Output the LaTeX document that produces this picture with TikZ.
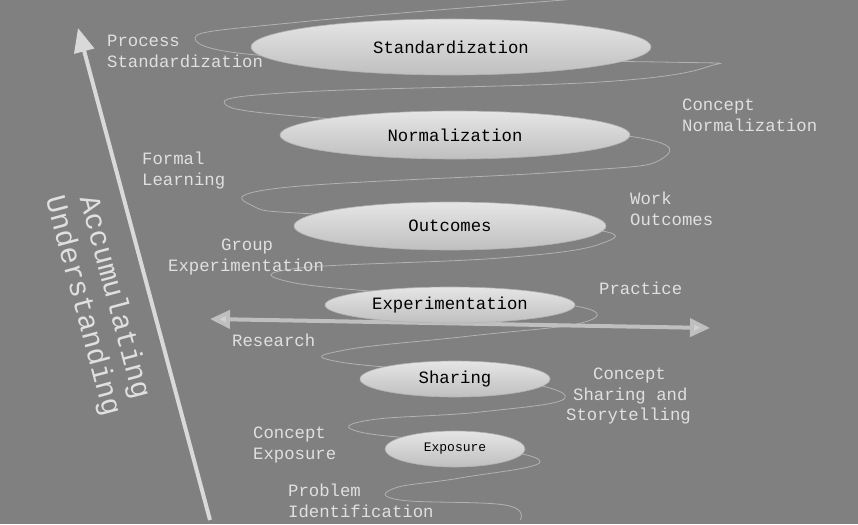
\documentclass[tikz,border=0pt]{standalone}
\usepackage{fontspec}
\setmonofont{Liberation Mono}
\usetikzlibrary{arrows.meta,shapes.geometric}
\begin{document}
\begin{tikzpicture}[x=1pt,y=-1pt,
  lab/.style={text=black!12,font=\ttfamily\fontsize{17.3}{20.5}\selectfont,align=left,anchor=north west,inner sep=0pt},
  ell/.style={ellipse,draw=gray!60!white,line width=0.6pt,top color=black!10,bottom color=black!25,font=\ttfamily\fontsize{17.3}{18}\selectfont,inner sep=0pt}]
\fill[gray] (0,0) rectangle (858,524);
\useasboundingbox (0,0) rectangle (858,524);
\draw[black!30,line width=0.8pt] plot[smooth,tension=0.7] coordinates{(590,-2) (300,22) (195,38) (300,58) (660,62) (710,66) (600,82) (300,92) (225,104) (320,118) (620,135) (660,160) (560,172) (280,188) (255,207) (330,215) (580,228) (600,244) (500,258) (300,268) (290,282) (420,295) (570,305) (585,322) (470,336) (345,350) (340,362) (500,378) (565,398) (480,412) (370,420) (360,432) (470,445) (540,462) (460,478) (395,488) (400,500) (505,505) (520,520)};
\node[ell,minimum width=400,minimum height=56] (std) at (451,47) {Standardization};
\node[ell,minimum width=350,minimum height=48] (nor) at (455,135) {Normalization};
\node[ell,minimum width=312,minimum height=48] (out) at (450,226) {Outcomes};
\draw[black!25,line width=4pt,{Triangle[length=20pt,width=18pt,fill=black!18]}-{Triangle[length=20pt,width=18pt,fill=black!18]}] (210,319) coordinate(ra) -- (710,328) coordinate(rb);
\node[ell,minimum width=250,minimum height=36] (exp) at (450,305) {Experimentation};
\node[ell,minimum width=190,minimum height=36] (sha) at (455,379) {Sharing};
\node[ell,minimum width=140,minimum height=36,font=\ttfamily\fontsize{13}{15}\selectfont] (exo) at (455,449) {Exposure};
\draw[black!15,line width=4pt,-{Triangle[length=24pt,width=20pt]}] (210,520) coordinate(a1) -- (78,28) coordinate(a2);
\node[text=black!12,font=\ttfamily\fontsize{29}{33}\selectfont,align=center,rotate=-75] (acc) at (98,302) {Accumulating\\Understanding};
\node[lab] (l1) at (107,35) {Process\\Standardization};
\node[lab] (l2) at (682,99) {Concept\\Normalization};
\node[lab] (l3) at (142,152) {Formal\\Learning};
\node[lab] (l4) at (630,192) {Work\\Outcomes};
\node[lab] (l5) at (168,239) {\hspace*{53pt}Group\\Experimentation};
\node[lab] (l6) at (599,282) {Practice};
\node[lab] (l7) at (232,334) {Research};
\node[lab] (l8) at (566,368) {\hspace*{27pt}Concept\\\hspace*{7pt}Sharing and\\Storytelling};
\node[lab] (l9) at (253,427) {Concept\\Exposure};
\node[lab] (l10) at (288,484) {Problem\\Identification};
\end{tikzpicture}
\end{document}
